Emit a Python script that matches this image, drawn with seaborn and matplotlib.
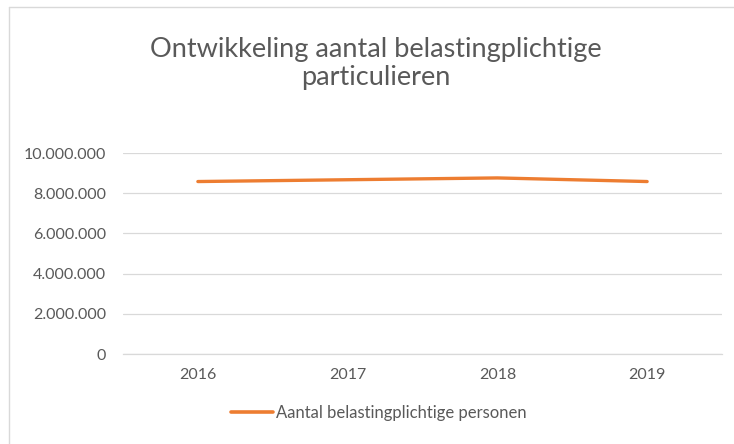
import matplotlib
matplotlib.use("Agg")
import matplotlib.pyplot as plt
import matplotlib.ticker as mticker
from matplotlib.lines import Line2D
import seaborn as sns
import pandas as pd

years = ["2016", "2017", "2018", "2019"]
values = [8580000, 8670000, 8760000, 8580000]
series_name = "Aantal belastingplichtige personen"
title = "Ontwikkeling aantal belastingplichtige\nparticulieren"
y_ticks = [0, 2000000, 4000000, 6000000, 8000000, 10000000]

sns.set_theme(style="white")
plt.rcParams['font.family'] = ['Lato', 'DejaVu Sans']

TEXT = "#595959"
GRID = "#D9D9D9"
ORANGE = "#ED7D31"

fig = plt.figure(figsize=(7.34, 4.44), dpi=100)
ax = fig.add_axes([123/734, 1 - 354/444, 599/734, 201/444])

df = pd.DataFrame({"year": years, "value": values})
sns.lineplot(data=df, x="year", y="value", ax=ax, color=ORANGE, linewidth=2.4,
             sort=False, legend=False, solid_capstyle="round")

ax.set_xlim(-0.5, 3.5)
ax.set_ylim(0, 10000000)
ax.set_yticks(y_ticks)
ax.yaxis.set_major_formatter(mticker.FuncFormatter(lambda v, p: f"{int(v):,}".replace(",", ".")))
ax.grid(axis="y", color=GRID, linewidth=0.9)
ax.set_axisbelow(True)
for s in ["top", "right", "left"]:
    ax.spines[s].set_visible(False)
ax.spines["bottom"].set_color(GRID)
ax.spines["bottom"].set_linewidth(0.9)
ax.tick_params(axis="both", colors=TEXT, labelsize=11.5, length=0)
ax.tick_params(axis="y", pad=12)
ax.tick_params(axis="x", pad=10)
ax.set_xlabel("")
ax.set_ylabel("")

fig.text(376/734, 1 - 63/444, title, ha="center", va="center", fontsize=19.5,
         color=TEXT, linespacing=1.15)

handle = Line2D([], [], color=ORANGE, linewidth=2.6)
fig.legend([handle], [series_name], loc="center", bbox_to_anchor=(379/734, 1 - 413/444),
           frameon=False, fontsize=12, labelcolor=TEXT, handlelength=2.5, handletextpad=0.2)

# chart border (left and top visible)
fig.add_artist(Line2D([9/734, 9/734], [0, 1 - 7/444], transform=fig.transFigure, color="#D9D9D9", linewidth=1))
fig.add_artist(Line2D([9/734, 1], [1 - 7/444, 1 - 7/444], transform=fig.transFigure, color="#D9D9D9", linewidth=1))

fig.savefig("out.png", dpi=100)
